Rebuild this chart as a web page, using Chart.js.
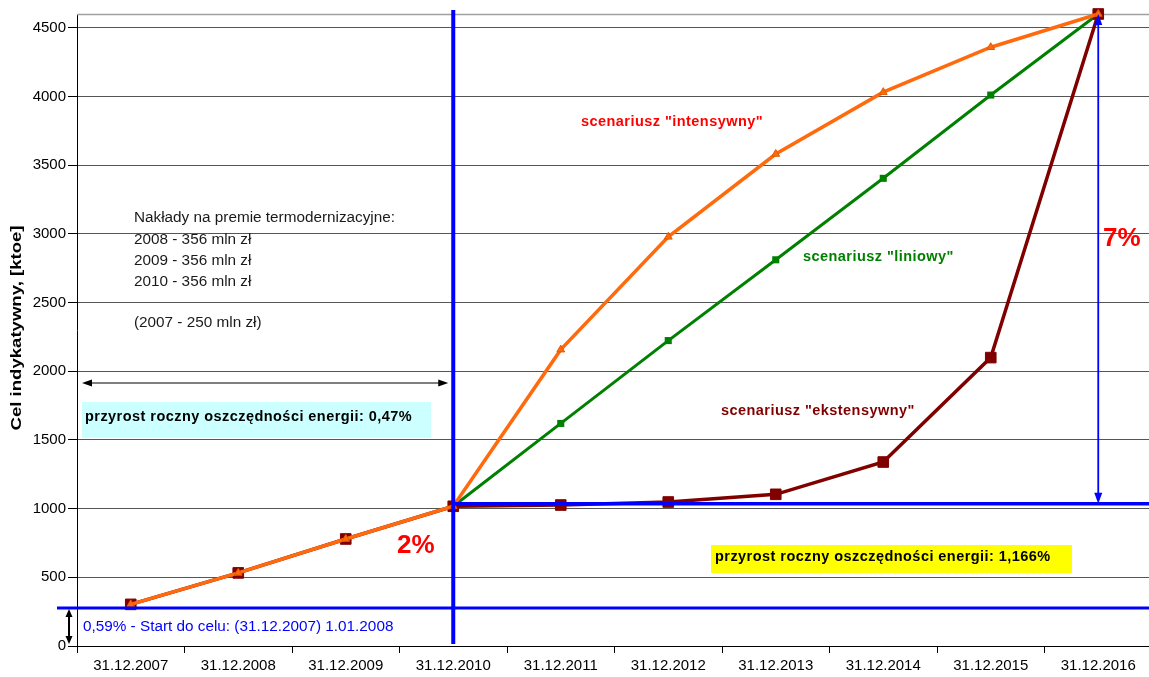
<!DOCTYPE html>
<html>
<head>
<meta charset="utf-8">
<style>
  html, body { margin: 0; padding: 0; background: #fff; }
  #wrap { width: 1149px; height: 677px; position: relative; }
</style>
<script src="https://cdn.jsdelivr.net/npm/chart.js@4/dist/chart.umd.min.js"></script>
</head>
<body>
<div id="wrap"><canvas id="c" width="1149" height="677"></canvas></div>
<script>
// ---- data ----
const categories = ['31.12.2007','31.12.2008','31.12.2009','31.12.2010','31.12.2011','31.12.2012','31.12.2013','31.12.2014','31.12.2015','31.12.2016'];
const intensywny  = [303, 532, 779, 1017, 2157, 2978, 3581, 4031, 4358, 4600];
const ekstensywny = [303, 532, 779, 1017, 1026, 1048, 1104, 1339, 2099, 4600];
const liniowy     = [null, null, null, 1017, 1620, 2223, 2811, 3404, 4010, 4600];
const yTickValues = [0, 500, 1000, 1500, 2000, 2500, 3000, 3500, 4000, 4500];
const startLevel  = 276;   // 0,59% start line
const baseLevel   = 1036;  // level at 31.12.2010
const yMax        = 4600;

const FONT = "Arial, 'Liberation Sans', sans-serif";
const ORANGE = '#ff6a0d', GREEN = '#008000', DARKRED = '#800000', BLUE = '#0000ff';

function text(ctx, s, x, y, font, color, align, spacing) {
  ctx.save();
  ctx.font = font;
  ctx.fillStyle = color;
  ctx.textAlign = align || 'left';
  ctx.textBaseline = 'middle';
  if (spacing) ctx.letterSpacing = spacing;
  ctx.fillText(s, x, y);
  ctx.restore();
}
function head(ctx, x, y, ang, len, w) {
  ctx.beginPath();
  ctx.moveTo(x, y);
  ctx.lineTo(x - len * Math.cos(ang) + w * Math.sin(ang), y - len * Math.sin(ang) - w * Math.cos(ang));
  ctx.lineTo(x - len * Math.cos(ang) - w * Math.sin(ang), y - len * Math.sin(ang) + w * Math.cos(ang));
  ctx.closePath();
  ctx.fill();
}
function dblArrow(ctx, x1, y1, x2, y2, color, lw, len, w) {
  ctx.save();
  ctx.strokeStyle = color; ctx.fillStyle = color; ctx.lineWidth = lw;
  const a = Math.atan2(y2 - y1, x2 - x1);
  ctx.beginPath();
  ctx.moveTo(x1 + Math.cos(a) * len * 0.8, y1 + Math.sin(a) * len * 0.8);
  ctx.lineTo(x2 - Math.cos(a) * len * 0.8, y2 - Math.sin(a) * len * 0.8);
  ctx.stroke();
  head(ctx, x2, y2, a, len, w);
  head(ctx, x1, y1, a + Math.PI, len, w);
  ctx.restore();
}
function line(ctx, x1, y1, x2, y2, color, lw) {
  ctx.save();
  ctx.strokeStyle = color; ctx.lineWidth = lw;
  ctx.beginPath(); ctx.moveTo(x1, y1); ctx.lineTo(x2, y2); ctx.stroke();
  ctx.restore();
}

const annot = {
  id: 'annot',
  afterLayout(chart) {
    // plot area in the reference runs slightly past the right edge of the picture
    const extra = 3;
    const x = chart.scales.x;
    chart.chartArea.right += extra;
    chart.chartArea.width += extra;
    x.right += extra;
    x.width += extra;
    x.configure();
  },
  beforeDraw(chart) {
    const ctx = chart.ctx;
    ctx.save(); ctx.fillStyle = '#fff'; ctx.fillRect(0, 0, chart.width, chart.height); ctx.restore();
  },
  beforeDatasetsDraw(chart) {
    const { ctx, chartArea: ca } = chart;
    line(ctx, ca.left, ca.top + 0.5, chart.width, ca.top + 0.5, '#a0a0a0', 1.5);
    ctx.save();
    ctx.fillStyle = '#ccffff';
    ctx.fillRect(82, 402, 349, 36);
    ctx.fillStyle = '#ffff00';
    ctx.fillRect(711, 545, 361, 28);
    ctx.restore();
    const nf = '15.3px ' + FONT;
    text(ctx, 'Nakłady na premie termodernizacyjne:', 134, 218, nf, '#1a1a1a');
    text(ctx, '2008 - 356 mln zł', 134, 240, nf, '#1a1a1a');
    text(ctx, '2009 - 356 mln zł', 134, 261, nf, '#1a1a1a');
    text(ctx, '2010 - 356 mln zł', 134, 282, nf, '#1a1a1a');
    text(ctx, '(2007 - 250 mln zł)', 134, 323, nf, '#1a1a1a');
    const bf = 'bold 14.5px ' + FONT;
    text(ctx, 'przyrost roczny oszczędności energii: 0,47%', 85, 417, bf, '#000', 'left', '0.45px');
    text(ctx, 'przyrost roczny oszczędności energii: 1,166%', 715, 557, bf, '#000', 'left', '0.45px');
    text(ctx, 'scenariusz "intensywny"', 581, 122, bf, '#ff0000', 'left', '0.45px');
    text(ctx, 'scenariusz "liniowy"', 803, 257, bf, GREEN, 'left', '0.45px');
    text(ctx, 'scenariusz "ekstensywny"', 721, 411, bf, DARKRED, 'left', '0.45px');
  },
  afterDatasetsDraw(chart) {
    const { ctx, chartArea: ca, scales: { x, y } } = chart;
    const x2010 = x.getPixelForValue(3);
    const x2016 = x.getPixelForValue(9);
    const yStart = y.getPixelForValue(startLevel);
    const yBase = y.getPixelForValue(baseLevel);
    line(ctx, 57, yStart, chart.width, yStart, BLUE, 3);
    line(ctx, x2010, yBase, chart.width, yBase, BLUE, 3.5);
    line(ctx, x2010, 10, x2010, ca.bottom - 2, BLUE, 4);
    dblArrow(ctx, x2016, yBase, x2016, y.getPixelForValue(yMax), BLUE, 1.8, 11, 4);
    dblArrow(ctx, 82, 383, x2010 - 5, 383, '#000', 1.2, 10, 3.5);
    dblArrow(ctx, 69, yStart + 1, 69, ca.bottom - 2, '#000', 2, 8, 3.5);
    text(ctx, '0,59% - Start do celu: (31.12.2007) 1.01.2008', 83, 627, '15.3px ' + FONT, BLUE);
    text(ctx, '2%', 397, 546, 'bold 26px ' + FONT, '#ff0000');
    text(ctx, '7%', 1103, 239, 'bold 26px ' + FONT, '#ff0000');
    // y axis title
    ctx.save();
    ctx.translate(17, 328);
    ctx.rotate(-Math.PI / 2);
    ctx.font = 'bold 15px ' + FONT;
    const w = ctx.measureText('Cel indykatywny, [ktoe]').width;
    ctx.scale(205 / w, 1);
    text(ctx, 'Cel indykatywny, [ktoe]', 0, 0, 'bold 15px ' + FONT, '#000', 'center');
    ctx.restore();
  }
};

new Chart(document.getElementById('c'), {
  type: 'line',
  data: {
    labels: categories,
    datasets: [
      {
        label: 'scenariusz "intensywny"',
        data: intensywny,
        borderColor: ORANGE, backgroundColor: ORANGE,
        borderWidth: 3.5,
        pointStyle: 'triangle', pointRadius: 4.5,
        pointBorderColor: '#e05a00', pointBorderWidth: 1,
        tension: 0, clip: false
      },
      {
        label: 'scenariusz "ekstensywny"',
        data: ekstensywny,
        borderColor: DARKRED, backgroundColor: DARKRED,
        borderWidth: 3.5,
        pointStyle: 'rect', pointRadius: 7.5,
        pointBorderColor: DARKRED, pointBorderWidth: 1,
        tension: 0, clip: false
      },
      {
        label: 'scenariusz "liniowy"',
        data: liniowy,
        borderColor: GREEN, backgroundColor: GREEN,
        borderWidth: 3,
        pointStyle: 'rect', pointRadius: 5,
        pointBorderColor: GREEN, pointBorderWidth: 0,
        tension: 0, clip: false
      }
    ]
  },
  options: {
    responsive: false,
    animation: false,
    events: [],
    layout: { autoPadding: false, padding: { top: 14, right: 0, left: 0, bottom: 0 } },
    plugins: { legend: { display: false }, tooltip: { enabled: false }, title: { display: false } },
    scales: {
      x: {
        offset: true,
        grid: { display: true, offset: true, drawOnChartArea: false, drawTicks: true, tickLength: 7, tickColor: '#000', tickWidth: 1 },
        border: { display: true, color: '#000', width: 1 },
        ticks: { color: '#000', font: { family: FONT, size: 15 }, padding: 4, maxRotation: 0, autoSkip: false },
        afterFit(s) { s.height = 31; s.paddingLeft = 0; s.paddingRight = 0; }
      },
      y: {
        min: 0, max: yMax,
        grid: { color: '#555', lineWidth: 1, drawTicks: true, tickLength: 9, tickColor: '#000' },
        border: { display: true, color: '#000', width: 1 },
        ticks: { color: '#000', font: { family: FONT, size: 15 }, padding: 2, autoSkip: false, callback: v => String(v) },
        afterBuildTicks(s) { s.ticks = yTickValues.map(v => ({ value: v })); },
        afterFit(s) { s.width = 77; s.paddingTop = 0; s.paddingBottom = 0; }
      }
    }
  },
  plugins: [annot]
});
</script>
</body>
</html>
